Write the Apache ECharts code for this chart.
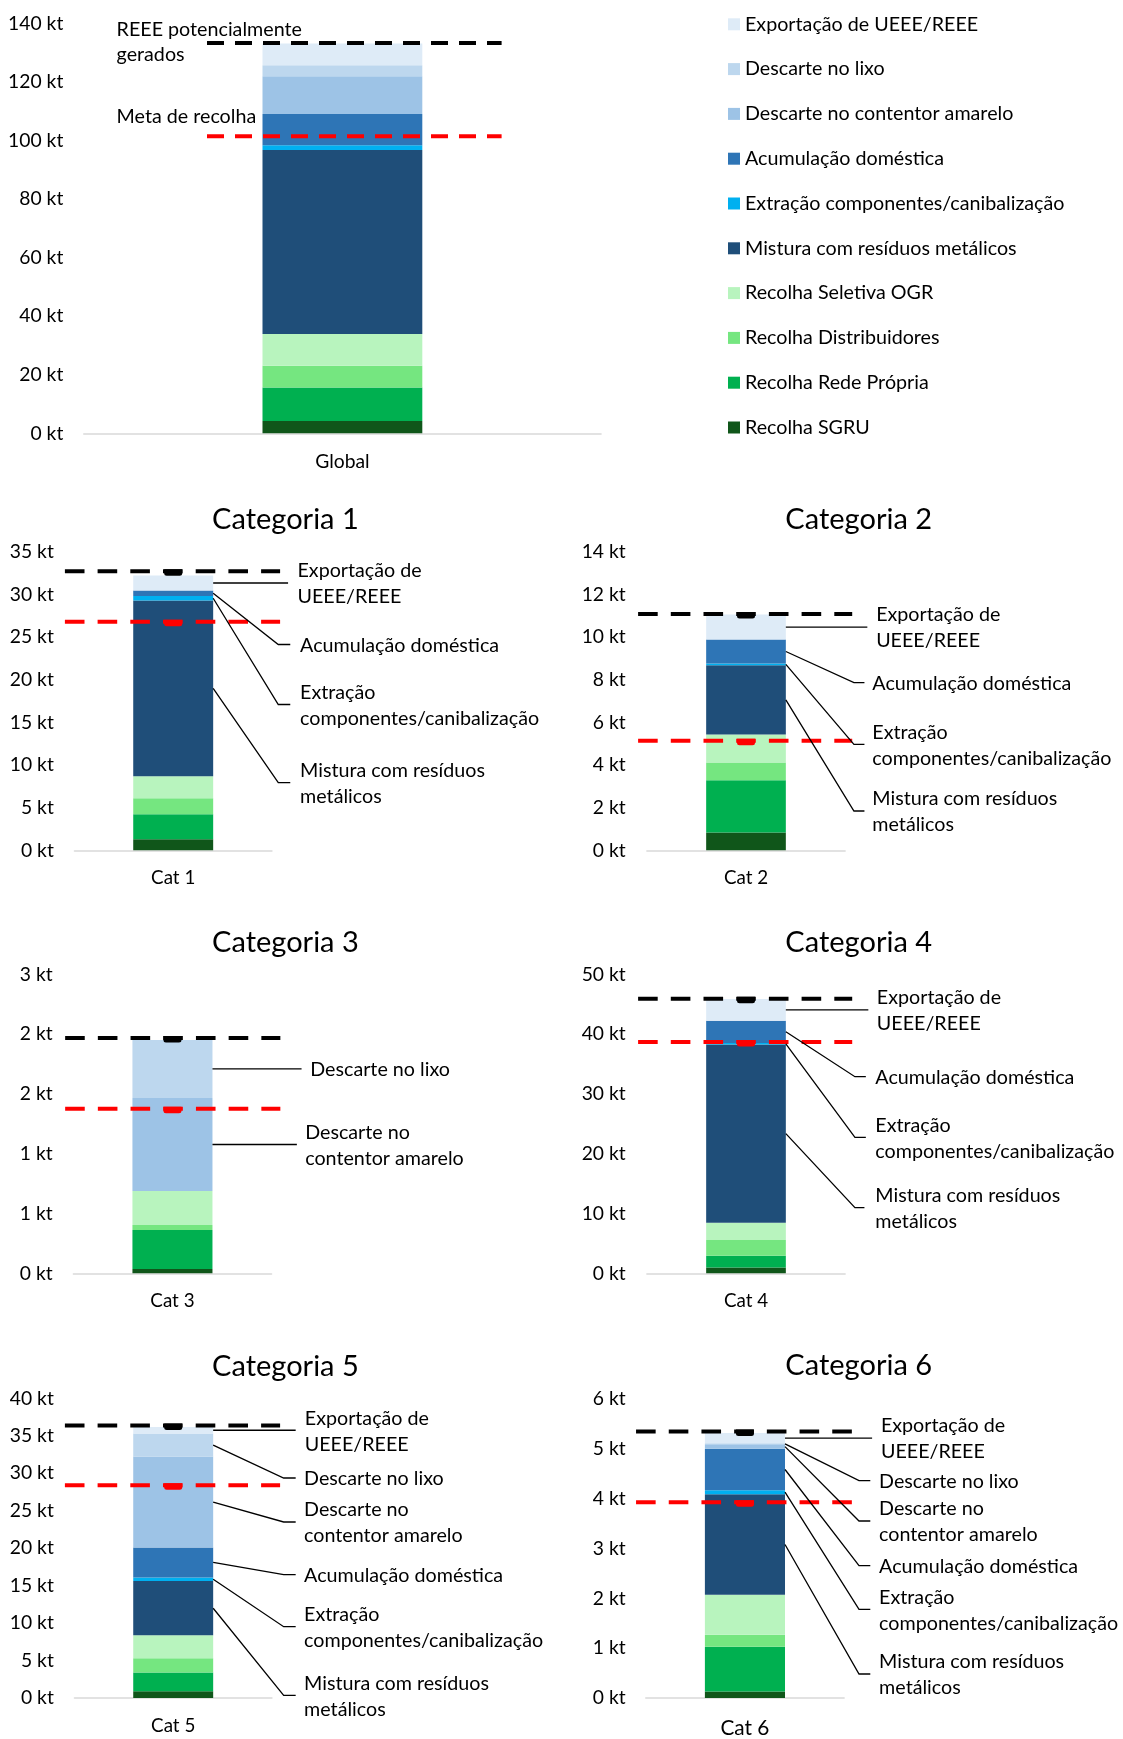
<!DOCTYPE html>
<html>
<head>
<meta charset="utf-8">
<script src="https://cdn.jsdelivr.net/npm/echarts@6/dist/echarts.min.js"></script>
<style>
  html, body { margin: 0; padding: 0; background: #ffffff; }
  #chart { width: 1123px; height: 1739px; }
</style>
</head>
<body>
<div id="chart"></div>
<script>
// ---- data (kt) -------------------------------------------------------------
// one bar per panel, in this order
const panelCategories = ['Global', 'Cat 1', 'Cat 2', 'Cat 3', 'Cat 4', 'Cat 5', 'Cat 6'];
const panelTitles = ['', 'Categoria 1', 'Categoria 2', 'Categoria 3', 'Categoria 4', 'Categoria 5', 'Categoria 6'];

// stack layers, bottom to top
const layerNames = [
  'Recolha SGRU',
  'Recolha Rede Própria',
  'Recolha Distribuidores',
  'Recolha Seletiva OGR',
  'Mistura com resíduos metálicos',
  'Extração componentes/canibalização',
  'Acumulação doméstica',
  'Descarte no contentor amarelo',
  'Descarte no lixo',
  'Exportação de UEEE/REEE'
];

// values per panel: Global, Cat 1 ... Cat 6
const recolhaSGRU            = [4.2, 1.29, 0.84, 0.036, 0.95, 0.89, 0.13];
const recolhaRedePropria     = [11.4, 2.93, 2.44, 0.326, 2.00, 2.53, 0.90];
const recolhaDistribuidores  = [7.5, 1.87, 0.84, 0.042, 2.62, 1.87, 0.24];
const recolhaSeletivaOGR     = [10.8, 2.58, 1.31, 0.284, 2.90, 3.07, 0.80];
const misturaMetalicos       = [62.8, 20.6, 3.25, 0, 29.77, 7.24, 2.02];
const extracaoComponentes    = [1.7, 0.55, 0.08, 0, 0.28, 0.49, 0.08];
const acumulacaoDomestica    = [10.6, 0.63, 1.12, 0, 3.73, 4.00, 0.83];
const descarteContentor      = [12.9, 0, 0, 0.778, 0, 12.13, 0.09];
const descarteLixo           = [3.8, 0, 0, 0.485, 0, 3.07, 0.02];
const exportacaoUEEE         = [7.4, 1.76, 1.17, 0, 3.62, 0.89, 0.21];

// reference levels
const reeePotencialmenteGerados = [133.3, 32.7, 11.08, 1.967, 45.9, 36.36, 5.35];
const metaDeRecolha             = [101.4, 26.8, 5.14, 1.376, 38.68, 28.4, 3.93];

// value axes
const axisMax  = [140, 35, 14, 2.5, 50, 40, 6];
const axisStep = [20, 5, 2, 0.5, 10, 5, 1];

const layerValues = [
  recolhaSGRU, recolhaRedePropria, recolhaDistribuidores, recolhaSeletivaOGR,
  misturaMetalicos, extracaoComponentes, acumulacaoDomestica,
  descarteContentor, descarteLixo, exportacaoUEEE
];

// callout wording per layer (line breaks as set on the panels)
const calloutText = {
  4: 'Mistura com resíduos\nmetálicos',
  5: 'Extração\ncomponentes/canibalização',
  6: 'Acumulação doméstica',
  7: 'Descarte no\ncontentor amarelo',
  8: 'Descarte no lixo',
  9: 'Exportação de\nUEEE/REEE'
};

// ---- styling / layout ------------------------------------------------------
const FONT = 'Lato, "Open Sans", "Noto Sans", sans-serif';
const TEXT = '#000000';
const layerColors = [
  '#10561A', '#00B050', '#75E680', '#B8F4BE', '#1F4E79',
  '#00B0F0', '#2E75B6', '#9DC3E6', '#BDD7EE', '#DEEBF7'
];

const grids = [
  { left: 83.8, top: 23.3, width: 517.2, height: 410 },
  { left: 74.5, top: 551.7, width: 197.4, height: 298.6 },
  { left: 646.9, top: 551.7, width: 198.2, height: 298.6 },
  { left: 73.4, top: 974.3, width: 198.1, height: 299 },
  { left: 646.9, top: 974.3, width: 198.2, height: 299 },
  { left: 74.5, top: 1398.3, width: 197.4, height: 299.7 },
  { left: 645.8, top: 1399, width: 198.3, height: 299.3 }
];
const barWidthRatio = [0.309, 0.405, 0.402, 0.404, 0.402, 0.405, 0.404];
const tickFont = [19.3, 19.3, 19.3, 19.3, 19.3, 19.3, 19.3];
const tickMargin = [20.5, 20.7, 21.2, 20.7, 21.2, 20.7, 20.1];
const catFont = [19.3, 18.8, 18.8, 18.8, 18.8, 18.8, 20.8];
const catMargin = [18, 18, 18, 18, 18, 18, 20.5];
// reference-line extent, px from bar centre
const refExtent = [[-135.4, 159.2], [-108.3, 106.9], [-107.9, 106.2], [-107.3, 107.9], [-107.9, 106.2], [-108.3, 106.9], [-108.9, 107]];
const refDash = [[17, 11], [19.6, 13.1], [19.6, 13.1], [19.6, 13.1], [19.6, 13.1], [19.6, 13.1], [19.6, 13.1]];
const refMarker = [false, true, true, true, true, true, true];
const titleCentres = [null, [285.4, 519.3], [858.7, 519.3], [285.4, 942.7], [858.7, 942.7], [285.4, 1366.7], [858.7, 1366]];
const noteFont = 19.7;
const calloutFont = 19.7;

// callouts: leader from the layer's midpoint on the bar edge to the label
// offsets in px from the bar's right edge; y: page y of the label (null = level with the anchor)
const callouts = [
  null,
  { elbow: 65.1, end: 77.1, text: 86.9, items: [
    { layer: 9, y: null, end: 74.9, text: 84.3 }, { layer: 6, y: 644.5 }, { layer: 5, y: 704.5 }, { layer: 4, y: 782.7 } ] },
  { elbow: 68.1, end: 78.6, text: 86.5, items: [
    { layer: 9, y: null, end: 81.5, text: 90.3 }, { layer: 6, y: 682.7 }, { layer: 5, y: 744.3 }, { layer: 4, y: 811 } ] },
  { elbow: 40, end: 86, text: 95, items: [
    { layer: 8, y: null, end: 89.1, text: 97.8 }, { layer: 7, y: null, end: 84.4, text: 92.7 } ] },
  { elbow: 69.1, end: 80, text: 89.5, items: [
    { layer: 9, y: null, end: 82.5, text: 91 }, { layer: 6, y: 1076.7 }, { layer: 5, y: 1137.3 }, { layer: 4, y: 1207.7, end: 78.6 } ] },
  { elbow: 70.5, end: 82.5, text: 90.9, items: [
    { layer: 9, y: null, text: 91.6 }, { layer: 8, y: 1478 }, { layer: 7, y: 1522 }, { layer: 6, y: 1574.7 },
    { layer: 5, y: 1626.7 }, { layer: 4, y: 1695.3 } ] },
  { elbow: 74, end: 85.3, text: 94.1, items: [
    { layer: 9, y: null, end: 87.1, text: 95.9 }, { layer: 8, y: 1480.7 }, { layer: 7, y: 1521 }, { layer: 6, y: 1565.7 },
    { layer: 5, y: 1609.3 }, { layer: 4, y: 1674 } ] }
];

// midpoint of a layer within the stacked bar of panel p
function layerMid(p, k) {
  let base = 0;
  for (let i = 0; i < k; i++) base += layerValues[i][p];
  return base + layerValues[k][p] / 2;
}

const option = {
  animation: false,
  backgroundColor: '#ffffff',
  textStyle: { fontFamily: FONT },
  grid: grids.map(g => Object.assign({ containLabel: false }, g)),
  xAxis: panelCategories.map((c, p) => ({
    type: 'category',
    gridIndex: p,
    data: [c],
    axisLine: { lineStyle: { color: '#D9D9D9', width: 1.6 } },
    axisTick: { show: false },
    axisLabel: { color: TEXT, fontFamily: FONT, fontSize: catFont[p], lineHeight: 20, margin: catMargin[p] },
    splitLine: { show: false }
  })),
  yAxis: panelCategories.map((c, p) => ({
    type: 'value',
    gridIndex: p,
    min: 0,
    max: axisMax[p],
    interval: axisStep[p],
    axisLine: { show: false },
    axisTick: { show: false },
    splitLine: { show: false },
    axisLabel: {
      color: TEXT, fontFamily: FONT, fontSize: tickFont[p], margin: tickMargin[p],
      formatter: v => Math.round(v) + ' kt'
    }
  })),
  legend: {
    orient: 'vertical',
    left: 728,
    top: 14.3,
    padding: 0,
    itemWidth: 12,
    itemHeight: 12,
    itemGap: 24.8,
    icon: 'rect',
    selectedMode: false,
    data: layerNames.slice().reverse(),
    textStyle: { color: TEXT, fontFamily: FONT, fontSize: 19.7, lineHeight: 20 }
  },
  graphic: [],
  series: []
};

// panel titles
titleCentres.forEach((c, p) => {
  if (!c) return;
  option.graphic.push({
    type: 'text', x: c[0], y: c[1], silent: true,
    style: { text: panelTitles[p], fill: TEXT, font: '29px ' + FONT, align: 'center', verticalAlign: 'middle' }
  });
});
// notes beside the reference lines on the global panel
option.graphic.push({
  type: 'text', x: 116.6, y: 42.5, silent: true,
  style: { text: 'REEE potencialmente\ngerados', fill: TEXT, font: noteFont + 'px ' + FONT, lineHeight: 25, align: 'left', verticalAlign: 'middle' }
});
option.graphic.push({
  type: 'text', x: 116.6, y: 117, silent: true,
  style: { text: 'Meta de recolha', fill: TEXT, font: noteFont + 'px ' + FONT, align: 'left', verticalAlign: 'middle' }
});

panelCategories.forEach((c, p) => {
  // stacked bar
  layerValues.forEach((vals, k) => {
    option.series.push({
      type: 'bar',
      name: layerNames[k],
      xAxisIndex: p,
      yAxisIndex: p,
      stack: 'panel' + p,
      barWidth: (barWidthRatio[p] * 100) + '%',
      silent: true,
      itemStyle: { color: layerColors[k] },
      data: [vals[p]]
    });
  });

  // dashed reference levels
  option.series.push({
    type: 'custom',
    name: 'ref' + p,
    xAxisIndex: p,
    yAxisIndex: p,
    silent: true,
    z: 5,
    data: [[0, reeePotencialmenteGerados[p]], [0, metaDeRecolha[p]]],
    renderItem: (params, api) => {
      const pt = api.coord([0, api.value(1)]);
      const colour = params.dataIndex === 0 ? '#000000' : '#FF0000';
      const children = [{
        type: 'line',
        shape: { x1: pt[0] + refExtent[p][0], y1: pt[1], x2: pt[0] + refExtent[p][1], y2: pt[1] },
        style: { stroke: colour, lineWidth: 4, lineDash: refDash[p], lineCap: 'butt' }
      }];
      if (refMarker[p]) {
        children.push({
          type: 'rect',
          shape: { x: pt[0] - 9, y: pt[1] - 2, width: 18, height: 6.5, r: [0, 0, 2.5, 2.5] },
          style: { fill: colour }
        });
      }
      return { type: 'group', children };
    }
  });

  // callouts
  const cfg = callouts[p];
  if (cfg) {
    option.series.push({
      type: 'custom',
      name: 'callout' + p,
      xAxisIndex: p,
      yAxisIndex: p,
      silent: true,
      z: 6,
      data: cfg.items.map(it => [0, layerMid(p, it.layer)]),
      renderItem: (params, api) => {
        const it = cfg.items[params.dataIndex];
        const pt = api.coord([0, api.value(1)]);
        const band = api.size([1, 0])[0];
        const right = pt[0] + band * barWidthRatio[p] / 2;
        const y = it.y == null ? pt[1] : it.y;
        const endX = right + (it.end != null ? it.end : cfg.end);
        const textX = right + (it.text != null ? it.text : cfg.text);
        const pts = it.y == null
          ? [[right, y], [endX, y]]
          : [[right, pt[1]], [right + cfg.elbow, y], [endX, y]];
        return {
          type: 'group',
          children: [
            { type: 'polyline', shape: { points: pts }, style: { stroke: '#000000', lineWidth: 1.3, fill: null } },
            { type: 'text', x: textX, y: y + 1,
              style: { text: calloutText[it.layer], fill: TEXT, font: calloutFont + 'px ' + FONT, lineHeight: 26, align: 'left', verticalAlign: 'middle' } }
          ]
        };
      }
    });
  }
});

const chart = echarts.init(document.getElementById('chart'), null, { renderer: 'canvas' });
chart.setOption(option);
</script>
</body>
</html>
